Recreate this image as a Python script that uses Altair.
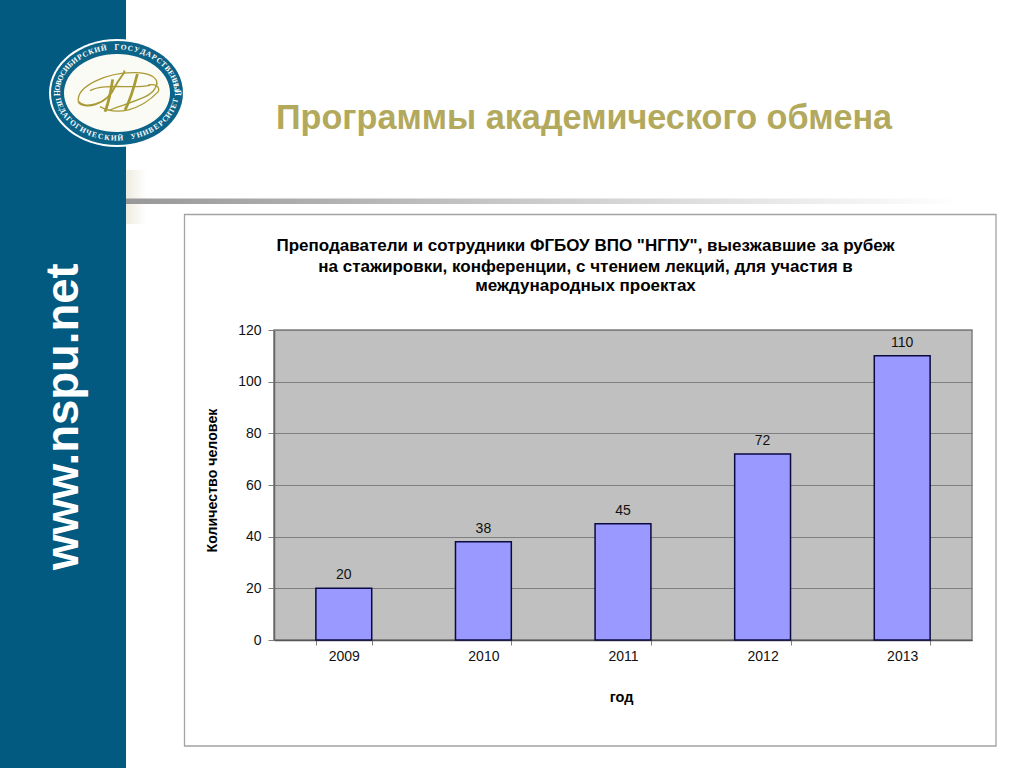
import re
import math
import altair as alt
import pandas as pd

# ---- chart values ----
years = ["2009", "2010", "2011", "2012", "2013"]
counts = [20, 38, 45, 72, 110]
chart_title = [
    'Преподаватели и сотрудники ФГБОУ ВПО "НГПУ", выезжавшие за рубеж',
    "на стажировки, конференции, с чтением лекций, для участия в",
    "международных проектах",
]
title_baselines = [251, 272, 291]
slide_title = "Программы академического обмена"
site = "www.nspu.net"
logo_top = "НОВОСИБИРСКИЙ ГОСУДАРСТВЕННЫЙ"
logo_bottom = "ПЕДАГОГИЧЕСКИЙ УНИВЕРСИТЕТ"

OX, OY = 274, 330          # plot origin on the page
W, H = 698, 310
BLUE = "#025a80"
GOLD = "#b3a95c"
LOGO_GOLD = "#a99a35"
FONT = "Liberation Sans"
df = pd.DataFrame({"year": years, "n": counts})


def px(x):
    return alt.value(x - OX)


def py(y):
    return alt.value(y - OY)


def box(x0, x1, y0, y1, **mark):
    return alt.Chart().mark_rect(**mark).encode(x=px(x0), x2=px(x1), y=py(y0), y2=py(y1))


def fade(c0, c1):
    return alt.LinearGradient(
        gradient="linear", x1=0, x2=1, y1=0, y2=0,
        stops=[alt.GradientStop(offset=0, color=c0), alt.GradientStop(offset=1, color=c1)],
    )


def label(text, x, y, **mark):
    return alt.Chart().mark_text(text=text, font=FONT, baseline="alphabetic", **mark).encode(x=px(x), y=py(y))


# ---- slide furniture ----
deco = [
    box(126, 146, 170, 224, color=fade("#eeebe0", "#ffffff")),
    box(126, 960, 198.5, 204, color=fade("#989898", "#ffffff")),
    box(0, 126, 0, 768, color=BLUE),
    box(184.5, 996, 214.5, 746, fillOpacity=0, stroke="#a3a3a3", strokeWidth=1.3),
    label(slide_title, 276, 129, fontSize=34.2, fontWeight="bold", color=GOLD, align="left"),
    label(site, 78, 570, fontSize=45.5, fontWeight="bold", color="#ffffff", angle=270, align="left"),
]
for line, base in zip(chart_title, title_baselines):
    deco.append(label(line, 585.5, base, fontSize=17, fontWeight="bold", color="#000000", align="center"))

# ---- logo ----
CX, CY = 117, 93


def ellipse(rx, ry, **mark):
    path = f"M-1,0A1,{ry/rx:.3f},0,1,1,1,0A1,{ry/rx:.3f},0,1,1,-1,0Z"
    return alt.Chart().mark_point(shape=path, size=(2 * rx) ** 2, filled=True, opacity=1, **mark).encode(
        x=px(CX), y=py(CY))


logo = [
    ellipse(68, 54, color="#ffffff"),
    ellipse(66, 52, color="#0b6488"),
    ellipse(53, 39, color="#fbfbf6"),
]


def arc_text(text, start, end, rx, ry):
    out = []
    n = len(text)
    for i, ch in enumerate(text):
        if ch == " ":
            continue
        t = math.radians(start + (end - start) * i / (n - 1))
        x, y = CX + rx * math.cos(t), CY + ry * math.sin(t)
        # tangent direction of the ellipse at this point
        a = math.degrees(math.atan2(ry * math.cos(t), -rx * math.sin(t)))
        a = a if end > start else a + 180
        out.append(alt.Chart().mark_text(text=ch, font="Liberation Serif", fontSize=7.5, fontWeight="bold",
                                         color="#ffffff", angle=a % 360, align="center",
                                         baseline="middle").encode(x=px(x), y=py(y)))
    return out


logo += arc_text(logo_top, 180, 360, 59.5, 45.5)
logo += arc_text(logo_bottom, 170, 10, 59.5, 45.5)


def curve(d, width):
    """d is written in logo-crop pixels (3x, crop origin 40,30); the centre is 231,189."""
    def conv(m):
        x, y = float(m.group(1)), float(m.group(2))
        return f"{(x - 231) / 150:.3f},{(y - 189) / 150:.3f}"
    path = re.sub(r"(-?\d+),(-?\d+)", conv, d)
    return alt.Chart().mark_point(shape=path, size=100 ** 2, filled=False, stroke=LOGO_GOLD,
                                  strokeWidth=width, opacity=1).encode(x=px(CX), y=py(CY))


logo += [
    curve("M115,215 C108,170 200,125 290,128 C340,130 362,150 345,175 C330,205 270,215 210,240", 1.3),
    curve("M115,215 C130,238 200,228 225,170 C240,140 262,122 250,124", 2.0),
    curve("M180,230 C230,258 300,242 355,185 C360,170 345,160 325,165", 1.3),
    curve("M150,182 C190,158 280,178 330,166", 1.3),
    curve("M218,148 C212,190 205,220 195,245", 2.8),
    curve("M292,132 C280,180 268,215 255,240", 2.8),
]

# ---- the chart proper ----
x = alt.X(
    "year:N", sort=years,
    scale=alt.Scale(paddingInner=0.6, paddingOuter=0.3),
    axis=alt.Axis(
        title="год", labelAngle=0, labelFont=FONT, labelFontSize=14, labelColor="#111111",
        labelPadding=4, titleFont=FONT, titleFontSize=14.5, titleFontWeight="bold", titleColor="#000000",
        titlePadding=27, titleX=347, tickBand="extent", tickSize=5, tickColor="#808080",
        domainColor="#555555", domainWidth=1.3, grid=False,
    ),
)
y = alt.Y(
    "n:Q",
    scale=alt.Scale(domain=[0, 120]),
    axis=alt.Axis(
        title="Количество человек", values=[0, 20, 40, 60, 80, 100, 120], labelFont=FONT,
        labelFontSize=14, labelColor="#111111", labelPadding=7, titleFont=FONT, titleFontSize=14.2,
        titleFontWeight="bold", titleColor="#000000", titlePadding=18, titleY=150, tickSize=6,
        tickColor="#808080", domainColor="#666666", domainWidth=1.5, grid=True, gridColor="#7f7f7f",
        gridWidth=1,
    ),
)
bars = alt.Chart(df).mark_bar(fill="#9999ff", stroke="#0a0a40", strokeWidth=1.5).encode(x=x, y=y)
values = alt.Chart(df).mark_text(font=FONT, fontSize=14, color="#111111", baseline="alphabetic", dy=-9).encode(
    x=x, y=y, text="n:Q")

chart = alt.layer(*deco, *logo, bars, values).properties(
    width=W,
    height=H,
    padding={"left": OX, "top": OY, "right": 1024 - OX - W, "bottom": 768 - OY - H},
    autosize=alt.AutoSizeParams(type="none"),
).configure_view(fill="#c0c0c0", stroke="#808080", strokeWidth=1.5)

# The slide bleeds to the window edge, so the page margin is removed with vega-embed's own style option.
chart.save("out.html", embed_options={
    "renderer": "svg", "actions": False,
    "defaultStyle": "body{margin:0;overflow:hidden} svg{display:block}",
})
